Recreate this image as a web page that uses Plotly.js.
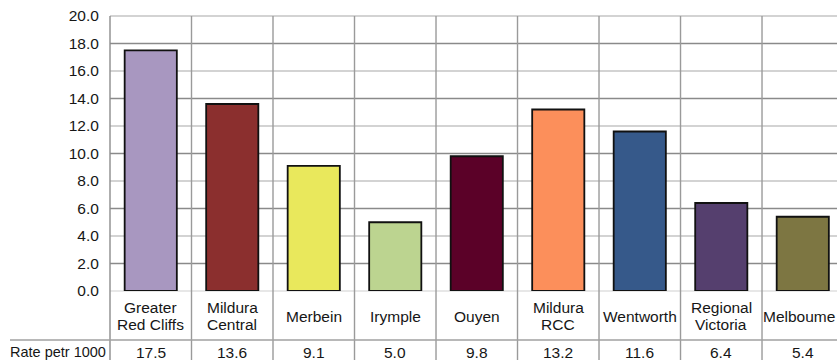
<!DOCTYPE html>
<html>
<head>
<meta charset="utf-8">
<script src="https://cdn.plot.ly/plotly-3.0.1.min.js"></script>
<style>
  html, body { margin: 0; padding: 0; background: #fff; overflow: hidden; }
  #chart { width: 837px; height: 360px; }
</style>
</head>
<body>
<div id="chart"></div>
<script>
// Category names, one entry per label line
const categoryLines = [
  ['Greater', 'Red Cliffs'],
  ['Mildura', 'Central'],
  ['Merbein'],
  ['Irymple'],
  ['Ouyen'],
  ['Mildura', 'RCC'],
  ['Wentworth'],
  ['Regional', 'Victoria'],
  ['Melboume']
];
const rates = [17.5, 13.6, 9.1, 5.0, 9.8, 13.2, 11.6, 6.4, 5.4];
const barColors = ['#a897c0', '#8b2f2e', '#e9e85c', '#bcd490', '#5b0128',
                   '#fc8f5b', '#36598a', '#553f6e', '#7d7642'];
const rowLabel = 'Rate petr 1000';
const yTickVals = [0, 2, 4, 6, 8, 10, 12, 14, 16, 18, 20];

// Layout geometry
const W = 837, H = 360;
const M = { l: 110, r: 0, t: 16, b: 69 };
const plotH = H - M.t - M.b;
const plotW = W - M.l - M.r;
const xRange = [-0.5, 8.42];
const yRange = [0, 20];
const FONT = 'Liberation Sans, Arial, Helvetica, sans-serif';
const TEXT = '#161616';

// Convert pixel offsets below the plot area into paper units
const belowPaper = px => -px / plotH;
const xToPaper = v => (v - xRange[0]) / (xRange[1] - xRange[0]);
const yToPaper = v => (v - yRange[0]) / (yRange[1] - yRange[0]);

const xIdx = categoryLines.map((_, i) => i);

const trace = {
  type: 'bar',
  x: xIdx,
  y: rates,
  width: 0.64,
  marker: { color: barColors, line: { color: '#111', width: 1.8 } },
  hoverinfo: 'skip'
};

const shapes = [];
// horizontal gridlines, alternating tone
yTickVals.forEach(v => {
  if (v === 0) {
    shapes.push({ type: 'line', xref: 'paper', yref: 'paper', x0: 0, x1: 1,
      y0: 0, y1: 0, line: { color: '#d0d0d0', width: 1.2 }, layer: 'below' });
    return;
  }
  const dark = (v / 2) % 2 === 1;
  shapes.push({ type: 'line', xref: 'paper', yref: 'paper', x0: 0, x1: 1,
    y0: yToPaper(v), y1: yToPaper(v),
    line: { color: dark ? '#8a8a8a' : '#c4c4c4', width: 1.4 }, layer: 'below' });
});
// vertical dividers between categories, running through the table below
const bottom = belowPaper(M.b);
shapes.push({ type: 'line', xref: 'paper', yref: 'paper', x0: 0, x1: 0,
  y0: bottom, y1: 1, line: { color: '#8c8c8c', width: 1.4 }, layer: 'below' });
for (let i = 0; i < categoryLines.length; i++) {
  const xp = xToPaper(i + 0.5);
  if (xp > 1) continue;
  shapes.push({ type: 'line', xref: 'paper', yref: 'paper', x0: xp, x1: xp,
    y0: bottom, y1: 1, line: { color: '#9a9a9a', width: 1.4 }, layer: 'below' });
}
// table rule above the value row
shapes.push({ type: 'line', xref: 'paper', yref: 'paper',
  x0: -100 / plotW, x1: 1, y0: belowPaper(49), y1: belowPaper(49),
  line: { color: '#a0a0a0', width: 1.4 } });

const annotations = [];
const labelCenter = 25, lineGap = 17;
const lastIdx = categoryLines.length - 1;
categoryLines.forEach((lines, i) => {
  const n = lines.length;
  // the last column is cut by the right edge, so keep its label inside the page
  const edge = i === lastIdx;
  lines.forEach((txt, j) => {
    const off = labelCenter + (j - (n - 1) / 2) * lineGap;
    annotations.push({ xref: edge ? 'paper' : 'x', yref: 'paper',
      x: edge ? 1 : i, y: belowPaper(off),
      text: txt, showarrow: false, xanchor: edge ? 'right' : 'center', yanchor: 'middle',
      font: { family: FONT, size: 15.5, color: TEXT } });
  });
  annotations.push({ xref: 'x', yref: 'paper', x: i, y: belowPaper(61),
    text: rates[i].toFixed(1), showarrow: false, xanchor: 'center', yanchor: 'middle',
    font: { family: FONT, size: 15.5, color: TEXT } });
});
annotations.push({ xref: 'paper', yref: 'paper', x: -102 / plotW, y: belowPaper(61),
  text: rowLabel, showarrow: false, xanchor: 'left', yanchor: 'middle',
  font: { family: FONT, size: 14.5, color: TEXT } });

const layout = {
  width: W, height: H,
  margin: M,
  paper_bgcolor: '#fff', plot_bgcolor: '#fff',
  showlegend: false,
  xaxis: { range: xRange, showgrid: false, zeroline: false, showticklabels: false,
           ticks: '', showline: false, fixedrange: true },
  yaxis: { range: yRange, tickvals: yTickVals, tickformat: '.1f',
           showgrid: false, zeroline: false, showline: false,
           ticks: 'outside', ticklen: 7, tickcolor: 'rgba(0,0,0,0)',
           tickfont: { family: FONT, size: 15.5, color: TEXT }, fixedrange: true },
  shapes, annotations
};

Plotly.newPlot('chart', [trace], layout, { displayModeBar: false, staticPlot: true });
</script>
</body>
</html>
